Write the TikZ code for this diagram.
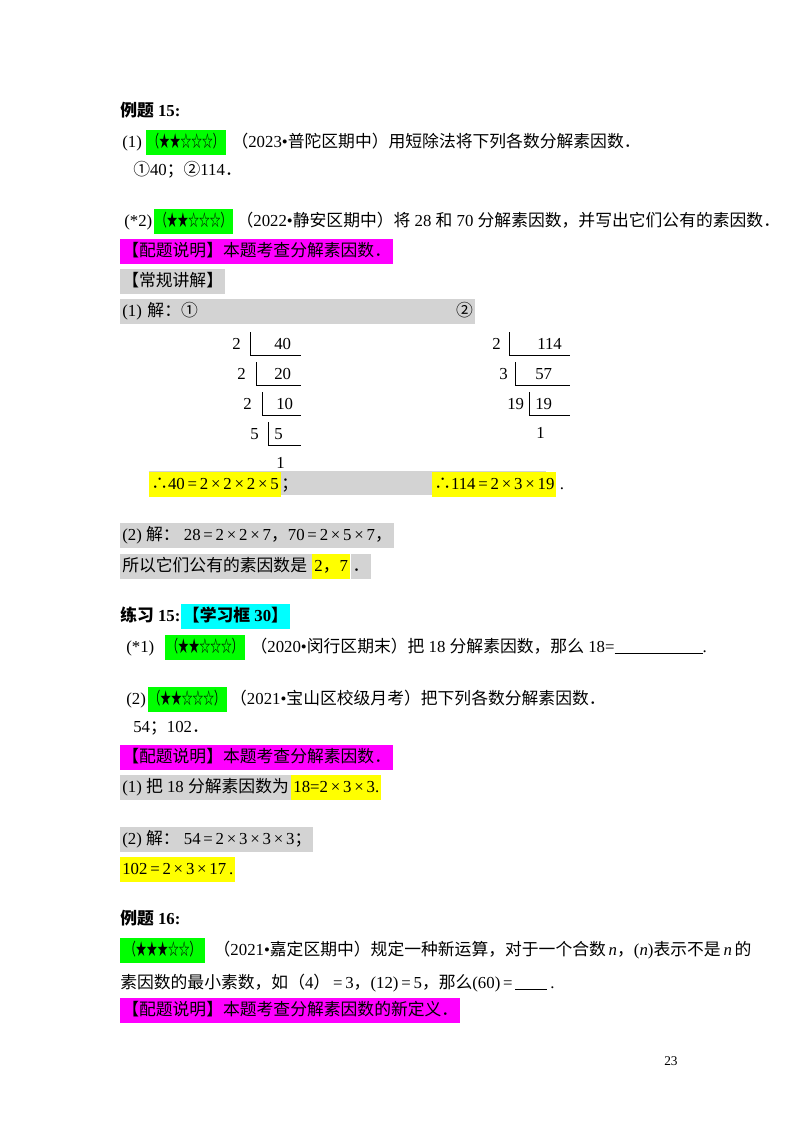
\documentclass[tikz,border=0pt]{standalone}
\usepackage{fontspec}
\usepackage{graphicx}
\setmainfont{Liberation Serif}
\newfontfamily\cjk{Noto Sans CJK SC}
\newcommand\C[1]{{\cjk #1}}
\newcommand\stars[1]{\scalebox{0.64}[1]{\C{（#1）}}}
\definecolor{mg}{RGB}{255,0,255}
\definecolor{cy}{RGB}{0,255,255}
\definecolor{gn}{RGB}{0,255,0}
\definecolor{yl}{RGB}{255,255,0}
\definecolor{gy}{RGB}{211,211,211}
\begin{document}
\begin{tikzpicture}[x=0.75pt,y=-0.75pt,
  t/.style={anchor=base west,inner sep=0pt,font=\fontsize{12.6}{14}\selectfont},
  tb/.style={t,font=\fontsize{12.6}{14}\selectfont\bfseries},
  hl/.style={fill=#1,inner xsep=1.5pt,inner ysep=2.8pt,text height=9.8pt,text depth=3.2pt},
  dv/.style={line width=0.6pt}]
\fill[white] (0,0) rectangle (800,1132);
\useasboundingbox (0,0) rectangle (800,1132);
\node[tb] (h1) at (120,116) {\C{例题} 15:};
\node[t] (a1) at (122,147) {(1)};
\node[t,hl=gn,xshift=3pt] (a2) at (a1.base east) {\stars{★★☆☆☆}};
\node[t,xshift=4pt] (a3) at (a2.base east) {\C{（}2023•\C{普陀区期中）用短除法将下列各数分解素因数．}};
\node[t] (a4) at (133,175) {\C{①}40\C{；②}114\C{．}};
\node[t] (b1) at (124,226) {(*2)};
\node[t,hl=gn,xshift=1pt] (b2) at (b1.base east) {\stars{★★☆☆☆}};
\node[t,xshift=2pt] (b3) at (b2.base east) {\C{（}2022•\C{静安区期中）将} 28 \C{和} 70 \C{分解素因数，并写出它们公有的素因数．}};
\node[t,hl=mg] (c1) at (120,256) {\C{【配题说明】本题考查分解素因数．}};
\node[t,hl=gy] (c2) at (120,286) {\C{【常规讲解】}};
\node[t,hl=gy,text width=263pt] (c3) at (120,316) {(1) \C{解：①}\hfill\C{②}};
% division 40
\node[t] (d1) at (232,349) {2};
\node[t] (d2) at (274,349) {40};
\node[t] (d3) at (237,379) {2};
\node[t] (d4) at (274,379) {20};
\node[t] (d5) at (243,409) {2};
\node[t] (d6) at (276,409) {10};
\node[t] (d7) at (250,439) {5};
\node[t] (d8) at (274,439) {5};
\node[t] (d9) at (276,468) {1};
\draw[dv] (250,332) -- (250,355) -- (301,355);
\draw[dv] (256,362) -- (256,385) -- (301,385);
\draw[dv] (262,392) -- (262,415) -- (301,415);
\draw[dv] (268,422) -- (268,445) -- (301,445);
% division 114
\node[t] (e1) at (492,349) {2};
\node[t] (e2) at (537,349) {114};
\node[t] (e3) at (499,379) {3};
\node[t] (e4) at (535,379) {57};
\node[t] (e5) at (507,409) {19};
\node[t] (e6) at (535,409) {19};
\node[t] (e7) at (536,438) {1};
\draw[dv] (509,332) -- (509,355) -- (570,355);
\draw[dv] (515,362) -- (515,385) -- (570,385);
\draw[dv] (529,392) -- (529,415) -- (570,415);
\fill[gy] (149,471) rectangle (546,495);
\node[t,hl=yl] (f1) at (149,489) {\C{∴}40\,=\,2\,×\,2\,×\,2\,×\,5};
\node[t] (f1b) at (f1.base east) {\C{；}};
\node[t,hl=yl] (f2) at (432,489) {\C{∴}114\,=\,2\,×\,3\,×\,19};
\node[t] (f2b) at (f2.base east) {\,.};
\node[t,hl=gy] (g1) at (120,540) {(2) \C{解：} 28\,=\,2\,×\,2\,×\,7\C{，}70\,=\,2\,×\,5\,×\,7\C{，}};
\node[t,hl=gy] (g2) at (120,571) {\C{所以它们公有的素因数是}\,};
\node[t,hl=yl] (g3) at (g2.base east) {2\C{，}7};
\node[t,hl=gy] (g4) at (g3.base east) {\C{．}};
\node[tb] (h2) at (120,621) {\C{练习} 15:};
\node[tb,hl=cy] (h3) at (h2.base east) {\C{【学习框} 30\C{】}};
\node[t] (i1) at (126,652) {(*1)};
\node[t,hl=gn,xshift=8pt] (i2) at (i1.base east) {\stars{★★☆☆☆}};
\node[t,xshift=4pt] (i3) at (i2.base east) {\C{（}2020•\C{闵行区期末）把} 18 \C{分解素因数，那么} 18=\rule[-1pt]{66pt}{0.4pt}.};
\node[t] (j1) at (126,704) {(2)};
\node[t,hl=gn,xshift=1pt] (j2) at (j1.base east) {\stars{★★☆☆☆}};
\node[t,xshift=2pt] (j3) at (j2.base east) {\C{（}2021•\C{宝山区校级月考）把下列各数分解素因数．}};
\node[t] (j4) at (133,732) {54\C{；}102\C{．}};
\node[t,hl=mg] (k1) at (120,762) {\C{【配题说明】本题考查分解素因数．}};
\node[t,hl=gy] (k2) at (120,792) {(1) \C{把} 18 \C{分解素因数为}};
\node[t,hl=yl] (k2b) at (k2.base east) {18=2\,×\,3\,×\,3.};
\node[t,hl=gy] (k3) at (120,844) {(2) \C{解：} 54\,=\,2\,×\,3\,×\,3\,×\,3\C{；}};
\node[t,hl=yl] (k4) at (120,874) {102\,=\,2\,×\,3\,×\,17\,.};
\node[tb] (h4) at (120,924) {\C{例题} 16:};
\node[t,hl=gn] (m1) at (120,955) {\,\stars{★★★☆☆}\,};
\node[t,xshift=6pt] (m2) at (m1.base east) {\C{（}2021•\C{嘉定区期中）规定一种新运算，对于一个合数}\,\textit{n}\C{，}(\textit{n})\C{表示不是}\,\textit{n}\,\C{的}};
\node[t] (m3) at (120,988) {\C{素因数的最小素数，如（}4\C{）}\,=\,3\C{，}(12)\,=\,5\C{，那么}(60)\,=\,\rule[-1pt]{24pt}{0.4pt}\,.};
\node[t,hl=mg] (m4) at (120,1015) {\C{【配题说明】本题考查分解素因数的新定义．}};
\node[t,font=\fontsize{10}{12}\selectfont] (pg) at (664,1065) {23};
\end{tikzpicture}
\end{document}
